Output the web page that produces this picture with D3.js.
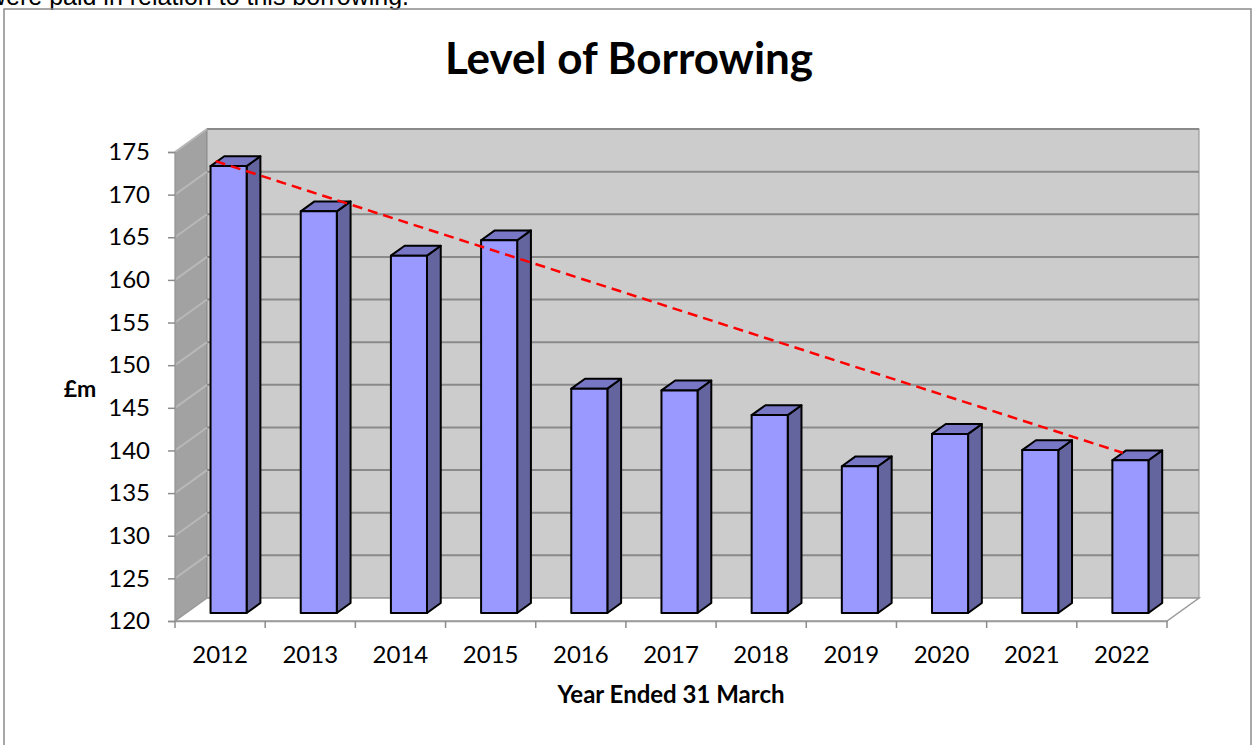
<!DOCTYPE html>
<html>
<head>
<meta charset="utf-8">
<script src="https://cdn.jsdelivr.net/npm/d3@7"></script>
<style>
  body { margin: 0; background: #fff; }
  text { font-family: Lato, "Open Sans", sans-serif; }
</style>
</head>
<body>
<svg id="chart" width="1253" height="745"></svg>
<script>
// data
const years = ["2012", "2013", "2014", "2015", "2016", "2017", "2018", "2019", "2020", "2021", "2022"];
const borrowing = [172.4, 167.1, 161.9, 163.7, 146.3, 146.1, 143.2, 137.2, 141.0, 139.1, 137.9];
const yTicks = [120, 125, 130, 135, 140, 145, 150, 155, 160, 165, 170, 175];
const trendYears = ["2012", "2022"];
const trendValues = [172.4, 138.2];

const data = years.map((d, i) => ({year: d, value: borrowing[i]}));

const svg = d3.select("#chart");

// depth offsets of the 3d box
const DX = 32, DY = -23;
const z0 = 0.35, z1 = 0.78;

const x = d3.scaleBand().domain(years).range([175, 1167]);
const y = d3.scaleLinear().domain([120, 175]).range([621, 152]);
const bw = x.bandwidth();

// leftover text from the page above the chart (cut by the top edge, as in the original)
svg.append("text")
  .attr("x", -12).attr("y", 5)
  .style("font-family", "'Liberation Sans', Arial, sans-serif")
  .style("font-size", "25px")
  .text("were paid in relation to this borrowing.");

// chart frame
svg.append("rect")
  .attr("x", 4).attr("y", 9)
  .attr("width", 1247).attr("height", 760)
  .attr("fill", "none")
  .attr("stroke", "#8c8c8c")
  .attr("stroke-width", 1.5);

svg.append("text")
  .attr("x", 629).attr("y", 74)
  .attr("text-anchor", "middle")
  .style("font-size", "44px")
  .style("font-weight", "bold")
  .text("Level of Borrowing");

const [y0, y1] = y.range();
const [xl, xr] = x.range();

// walls + floor
svg.append("polygon")
  .attr("points", [[xl, y1], [xl + DX, y1 + DY], [xl + DX, y0 + DY], [xl, y0]].join(" "))
  .attr("fill", "#a2a2a2")
  .attr("stroke", "#8c8c8c");

svg.append("rect")
  .attr("x", xl + DX).attr("y", y1 + DY)
  .attr("width", xr - xl).attr("height", y0 - y1)
  .attr("fill", "#cccccc")
  .attr("stroke", "#8c8c8c");

svg.append("polygon")
  .attr("points", [[xl, y0], [xr, y0], [xr + DX, y0 + DY], [xl + DX, y0 + DY]].join(" "))
  .attr("fill", "#fff")
  .attr("stroke", "#9a9a9a")
  .attr("stroke-width", 1.5);

// gridlines
const grid = svg.append("g");
grid.selectAll("line.back")
  .data(yTicks.slice(1))
  .enter().append("line")
    .attr("class", "back")
    .attr("x1", xl + DX).attr("x2", xr + DX)
    .attr("y1", d => y(d) + DY).attr("y2", d => y(d) + DY)
    .attr("stroke", "#8a8a8a")
    .attr("stroke-width", 2);

grid.selectAll("line.side")
  .data(yTicks.slice(1))
  .enter().append("line")
    .attr("class", "side")
    .attr("x1", xl).attr("x2", xl + DX)
    .attr("y1", d => y(d)).attr("y2", d => y(d) + DY)
    .attr("stroke", "#b8b8b8")
    .attr("stroke-width", 2);

// axes
const yAxis = svg.append("g")
  .attr("transform", `translate(${xl},0)`)
  .call(d3.axisLeft(y).tickValues(yTicks).tickSize(7).tickPadding(18));
yAxis.select(".domain").attr("stroke", "#9a9a9a").attr("stroke-width", 1.5);
yAxis.selectAll(".tick line").attr("stroke", "#8c8c8c").attr("stroke-width", 1.5);
yAxis.selectAll("text")
  .style("font-family", "Lato, sans-serif")
  .style("font-size", "24px")
  .attr("fill", "#000");

const xAxis = svg.append("g")
  .attr("transform", `translate(0,${y0})`)
  .call(d3.axisBottom(x).tickSize(0).tickPadding(25));
xAxis.select(".domain").attr("stroke", "#9a9a9a").attr("stroke-width", 1.5);
xAxis.selectAll("text")
  .style("font-family", "Lato, sans-serif")
  .style("font-size", "24px")
  .attr("fill", "#000");

xAxis.selectAll("line.sep")
  .data(years.map(d => x(d)).concat([xr]))
  .enter().append("line")
    .attr("class", "sep")
    .attr("x1", d => d).attr("x2", d => d)
    .attr("y1", 0).attr("y2", 7)
    .attr("stroke", "#8c8c8c")
    .attr("stroke-width", 1.5);

svg.append("text")
  .attr("x", 671).attr("y", 703)
  .attr("text-anchor", "middle")
  .style("font-size", "24px")
  .style("font-weight", "bold")
  .text("Year Ended 31 March");

svg.append("text")
  .attr("x", 80).attr("y", 397)
  .attr("text-anchor", "middle")
  .style("font-size", "23px")
  .style("font-weight", "bold")
  .text("£m");

// bars
const bx = d => x(d.year) + bw * 0.27 + z0 * DX;
const bwid = bw * 0.4;
const ddx = (z1 - z0) * DX, ddy = (z1 - z0) * DY;

const bars = svg.append("g").selectAll("g")
  .data(data)
  .enter().append("g")
    .attr("stroke", "#000")
    .attr("stroke-width", 2)
    .attr("stroke-linejoin", "round");

bars.append("polygon")
  .attr("points", d => {
    const x0 = bx(d) + bwid, top = y(d.value) + z0 * DY, bot = y0 + z0 * DY;
    return [[x0, top], [x0 + ddx, top + ddy], [x0 + ddx, bot + ddy], [x0, bot]].join(" ");
  })
  .attr("fill", "#64649f");

bars.append("polygon")
  .attr("points", d => {
    const x0 = bx(d), top = y(d.value) + z0 * DY;
    return [[x0, top], [x0 + ddx, top + ddy], [x0 + bwid + ddx, top + ddy], [x0 + bwid, top]].join(" ");
  })
  .attr("fill", "#7777c6");

bars.append("rect")
  .attr("x", d => bx(d))
  .attr("y", d => y(d.value) + z0 * DY)
  .attr("width", bwid)
  .attr("height", d => y0 - y(d.value))
  .attr("fill", "#9999ff");

// trend line
const zt = (z0 + z1) / 2;
svg.append("line")
  .attr("x1", x(trendYears[0]) + bw * 0.25 + zt * DX)
  .attr("y1", y(trendValues[0]) + zt * DY)
  .attr("x2", x(trendYears[1]) + bw * 0.31 + zt * DX)
  .attr("y2", y(trendValues[1]) + zt * DY)
  .attr("stroke", "#ff0000")
  .attr("stroke-width", 2.5)
  .attr("stroke-dasharray", "10,6");
</script>
</body>
</html>
